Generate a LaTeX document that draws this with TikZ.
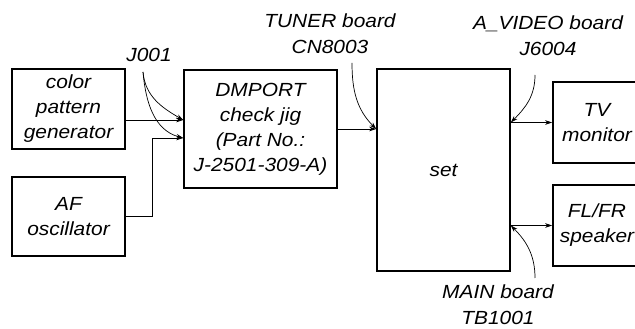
\documentclass[tikz,border=0pt]{standalone}
\usepackage{fontspec}
\newfontfamily\diagfont{Liberation Sans}[FakeStretch=1.1]
\usetikzlibrary{arrows.meta, positioning, calc}

\begin{document}
\begin{tikzpicture}[
    x=1pt, y=1pt,
    box/.style={draw, line width=1.6pt, align=center, inner sep=0pt, font=\diagfont\fontsize{19}{25}\selectfont\itshape},
    tag/.style={align=center, inner sep=0pt, font=\diagfont\fontsize{19}{26}\selectfont\itshape},
    arrow/.style={-{Stealth[length=7pt, width=4.5pt]}, line width=0.7pt},
    lead/.style={-{Stealth[length=7pt, width=4.5pt]}, line width=0.7pt}
]
\useasboundingbox (0,0) rectangle (635,329);
\clip (0,0) rectangle (635,329);

% sources
\node[box, minimum width=113pt, minimum height=80pt] (color) at (68.5,220) {color\\pattern\\generator};
\node[box, minimum width=113pt, minimum height=79pt] (af) at (68.5,112.5) {AF\\oscillator};

% jig and set
\node[box, minimum width=153pt, minimum height=118pt] (jig) at (260.5,200) {DMPORT\\check jig\\(Part No.:\\J-2501-309-A)};
\node[box, minimum width=133pt, minimum height=202pt] (set) at (443.5,159) {set};

% outputs
\node[box, minimum width=88pt, minimum height=81pt] (tv) at (597,206.5) {TV\\monitor};
\node[box, minimum width=88pt, minimum height=81pt] (spk) at (597,103.5) {FL/FR\\speaker};

% connector names
\node[tag] (j001) at (149,274) {J001};
\node[tag] (tuner) at (330,295) {TUNER board\\CN8003};
\node[tag] (avideo) at (548,293) {A\_VIDEO board\\J6004};
\node[tag] (main) at (498,24) {MAIN board\\TB1001};

\coordinate (jigin1) at ($(jig.west)+(0,9)$);
\coordinate (jigin2) at ($(jig.west)+(0,-9)$);
\coordinate (setin) at (jig.east -| set.west);
\coordinate (tvout) at (set.east |- tv.west);
\coordinate (spkout) at (set.east |- spk.west);

\draw[arrow] (color.east |- jigin1) -- (jigin1);
\draw[arrow] (af.east) -- ++(27,0) |- (jigin2);
\draw[arrow] (jig.east) -- (setin);
\draw[arrow] (tvout) -- (tv.west);
\draw[arrow] (spkout) -- (spk.west);

% leaders from the labels
\coordinate (jfoot) at (143,257);
\coordinate (tfoot) at (352,266);
\coordinate (afoot) at (535,254);
\coordinate (mfoot) at (535,51);
\draw[lead] (jfoot) to[out=-85, in=150] (jigin1);
\draw[lead] (jfoot) to[out=-85, in=165] (jigin2);
\draw[lead] (tfoot) to[out=-90, in=135] (setin);
\draw[lead] (afoot) to[out=-90, in=45] (tvout);
\draw[lead] (mfoot) to[out=90, in=-45] (spkout);

\end{tikzpicture}
\end{document}
